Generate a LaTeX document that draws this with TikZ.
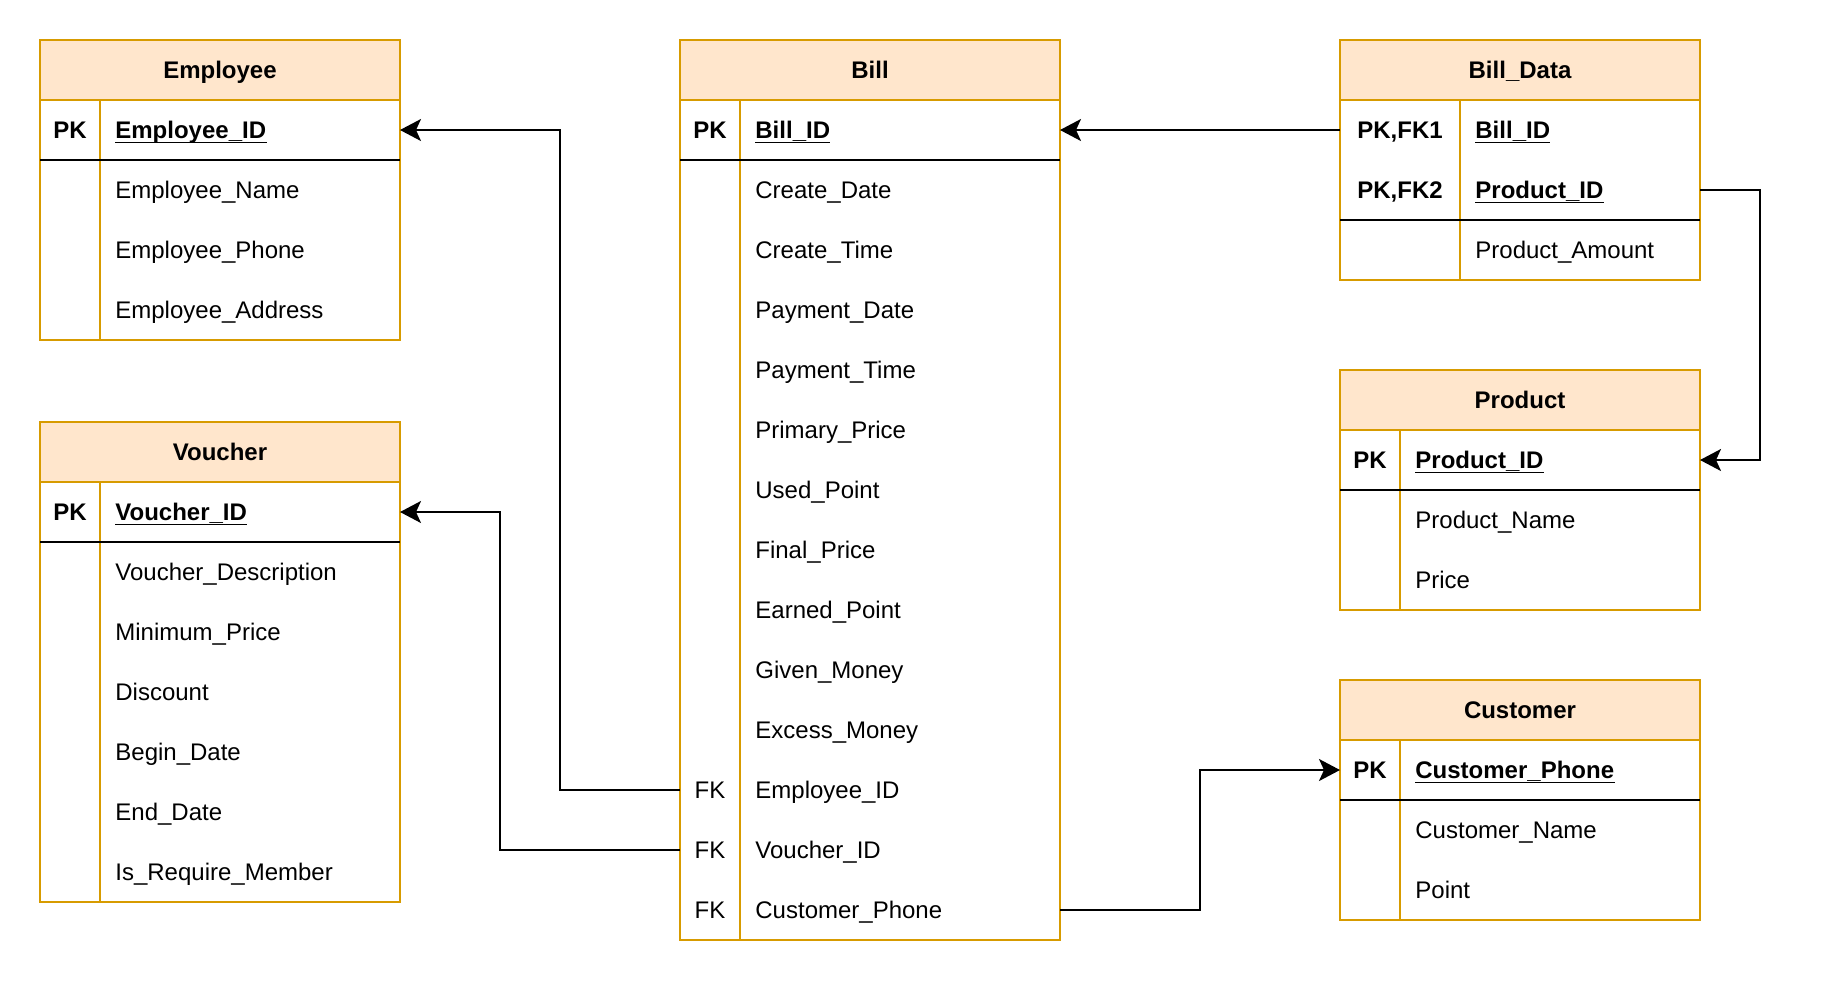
\documentclass[tikz,border=0pt]{standalone}
\usepackage{fontspec}
\setmainfont{Liberation Sans}
\usetikzlibrary{arrows.meta}
\definecolor{ordr}{HTML}{D79B00}
\definecolor{orfill}{HTML}{FFE6CC}
\begin{document}
\begin{tikzpicture}[x=0.5pt,y=-0.5pt,
  frame/.style={draw=ordr, line width=1pt},
  sepline/.style={draw=black, line width=1pt},
  ftxt/.style={font=\fontsize{12}{14}\selectfont},
  fbold/.style={font=\fontsize{12}{14}\selectfont\bfseries},
  titletext/.style={fbold, anchor=base, inner sep=0},
  keytext/.style={ftxt, anchor=base, inner sep=0},
  keybold/.style={fbold, anchor=base, inner sep=0},
  attrtext/.style={ftxt, anchor=base west, inner sep=0},
  attrbold/.style={fbold, anchor=base west, inner sep=0},
  ulin/.style={line width=0.7pt},
  rowbox/.style={inner sep=0, outer sep=0, minimum height=30pt, draw=none},
  link/.style={draw=black, line width=1pt},
  arr/.style={-{Stealth[length=10.5pt,width=11pt,inset=2.5pt]}}]

\useasboundingbox (0,0) rectangle (1822,982);

% ================= Employee =================
\fill[orfill] (40,40) rectangle (400,100);
\draw[frame] (40,100) -- (400,100);
\draw[frame] (100,100) -- (100,340);
\draw[frame] (40,40) rectangle (400,340);
\draw[sepline] (40,160) -- (400,160);
\node[titletext] (empT) at (220,78.5) {Employee};
\node[keybold] (empK) at (70,138.5) {PK};
\node[attrbold] (empA0) at (115,138.5) {Employee\_ID};
\draw[ulin] ([yshift=-2pt]empA0.base west) -- ([yshift=-2pt]empA0.base east);
\node[attrtext] (empA1) at (115,198.5) {Employee\_Name};
\node[attrtext] (empA2) at (115,258.5) {Employee\_Phone};
\node[attrtext] (empA3) at (115,318.5) {Employee\_Address};
\node[rowbox, minimum width=180pt] (empPK) at (220,130) {};

% ================= Voucher =================
\fill[orfill] (40,422) rectangle (400,482);
\draw[frame] (40,482) -- (400,482);
\draw[frame] (100,482) -- (100,902);
\draw[frame] (40,422) rectangle (400,902);
\draw[sepline] (40,542) -- (400,542);
\node[titletext] (vouT) at (220,460.5) {Voucher};
\node[keybold] (vouK) at (70,520.5) {PK};
\node[attrbold] (vouA0) at (115,520.5) {Voucher\_ID};
\draw[ulin] ([yshift=-2pt]vouA0.base west) -- ([yshift=-2pt]vouA0.base east);
\node[attrtext] (vouA1) at (115,580.5) {Voucher\_Description};
\node[attrtext] (vouA2) at (115,640.5) {Minimum\_Price};
\node[attrtext] (vouA3) at (115,700.5) {Discount};
\node[attrtext] (vouA4) at (115,760.5) {Begin\_Date};
\node[attrtext] (vouA5) at (115,820.5) {End\_Date};
\node[attrtext] (vouA6) at (115,880.5) {Is\_Require\_Member};
\node[rowbox, minimum width=180pt] (vouPK) at (220,512) {};

% ================= Bill =================
\fill[orfill] (680,40) rectangle (1060,100);
\draw[frame] (680,100) -- (1060,100);
\draw[frame] (740,100) -- (740,940);
\draw[frame] (680,40) rectangle (1060,940);
\draw[sepline] (680,160) -- (1060,160);
\node[titletext] (billT) at (870,78.5) {Bill};
\node[keybold] (billK) at (710,138.5) {PK};
\node[attrbold] (billA0) at (755,138.5) {Bill\_ID};
\draw[ulin] ([yshift=-2pt]billA0.base west) -- ([yshift=-2pt]billA0.base east);
\node[attrtext] (billA1) at (755,198.5) {Create\_Date};
\node[attrtext] (billA2) at (755,258.5) {Create\_Time};
\node[attrtext] (billA3) at (755,318.5) {Payment\_Date};
\node[attrtext] (billA4) at (755,378.5) {Payment\_Time};
\node[attrtext] (billA5) at (755,438.5) {Primary\_Price};
\node[attrtext] (billA6) at (755,498.5) {Used\_Point};
\node[attrtext] (billA7) at (755,558.5) {Final\_Price};
\node[attrtext] (billA8) at (755,618.5) {Earned\_Point};
\node[attrtext] (billA9) at (755,678.5) {Given\_Money};
\node[attrtext] (billA10) at (755,738.5) {Excess\_Money};
\node[keytext] (billK11) at (710,798.5) {FK};
\node[attrtext] (billA11) at (755,798.5) {Employee\_ID};
\node[keytext] (billK12) at (710,858.5) {FK};
\node[attrtext] (billA12) at (755,858.5) {Voucher\_ID};
\node[keytext] (billK13) at (710,918.5) {FK};
\node[attrtext] (billA13) at (755,918.5) {Customer\_Phone};
\node[rowbox, minimum width=190pt] (billPK) at (870,130) {};
\node[rowbox, minimum width=190pt] (billEmp) at (870,790) {};
\node[rowbox, minimum width=190pt] (billVou) at (870,850) {};
\node[rowbox, minimum width=190pt] (billCus) at (870,910) {};

% ================= Bill_Data =================
\fill[orfill] (1340,40) rectangle (1700,100);
\draw[frame] (1340,100) -- (1700,100);
\draw[frame] (1460,100) -- (1460,280);
\draw[frame] (1340,40) rectangle (1700,280);
\draw[sepline] (1340,220) -- (1700,220);
\node[titletext] (bdT) at (1520,78.5) {Bill\_Data};
\node[keybold] (bdK1) at (1400,138.5) {PK,FK1};
\node[attrbold] (bdA1) at (1475,138.5) {Bill\_ID};
\draw[ulin] ([yshift=-2pt]bdA1.base west) -- ([yshift=-2pt]bdA1.base east);
\node[keybold] (bdK2) at (1400,198.5) {PK,FK2};
\node[attrbold] (bdA2) at (1475,198.5) {Product\_ID};
\draw[ulin] ([yshift=-2pt]bdA2.base west) -- ([yshift=-2pt]bdA2.base east);
\node[attrtext] (bdA3) at (1475,258.5) {Product\_Amount};
\node[rowbox, minimum width=180pt] (bdRow1) at (1520,130) {};
\node[rowbox, minimum width=180pt] (bdRow2) at (1520,190) {};

% ================= Product =================
\fill[orfill] (1340,370) rectangle (1700,430);
\draw[frame] (1340,430) -- (1700,430);
\draw[frame] (1400,430) -- (1400,610);
\draw[frame] (1340,370) rectangle (1700,610);
\draw[sepline] (1340,490) -- (1700,490);
\node[titletext] (prT) at (1520,408.5) {Product};
\node[keybold] (prK) at (1370,468.5) {PK};
\node[attrbold] (prA0) at (1415,468.5) {Product\_ID};
\draw[ulin] ([yshift=-2pt]prA0.base west) -- ([yshift=-2pt]prA0.base east);
\node[attrtext] (prA1) at (1415,528.5) {Product\_Name};
\node[attrtext] (prA2) at (1415,588.5) {Price};
\node[rowbox, minimum width=180pt] (prPK) at (1520,460) {};

% ================= Customer =================
\fill[orfill] (1340,680) rectangle (1700,740);
\draw[frame] (1340,740) -- (1700,740);
\draw[frame] (1400,740) -- (1400,920);
\draw[frame] (1340,680) rectangle (1700,920);
\draw[sepline] (1340,800) -- (1700,800);
\node[titletext] (cuT) at (1520,718.5) {Customer};
\node[keybold] (cuK) at (1370,778.5) {PK};
\node[attrbold] (cuA0) at (1415,778.5) {Customer\_Phone};
\draw[ulin] ([yshift=-2pt]cuA0.base west) -- ([yshift=-2pt]cuA0.base east);
\node[attrtext] (cuA1) at (1415,838.5) {Customer\_Name};
\node[attrtext] (cuA2) at (1415,898.5) {Point};
\node[rowbox, minimum width=180pt] (cuPK) at (1520,770) {};

% ================= Connectors =================
\draw[link,arr] (billEmp.west) -- ++(-120,0) |- (empPK.east);
\draw[link,arr] (billVou.west) -- ++(-180,0) |- (vouPK.east);
\draw[link,arr] (billCus.east) -- ++(140,0) |- (cuPK.west);
\draw[link,arr] (bdRow1.west) -- (billPK.east);
\draw[link,arr] (bdRow2.east) -- ++(60,0) |- (prPK.east);
\end{tikzpicture}
\end{document}
